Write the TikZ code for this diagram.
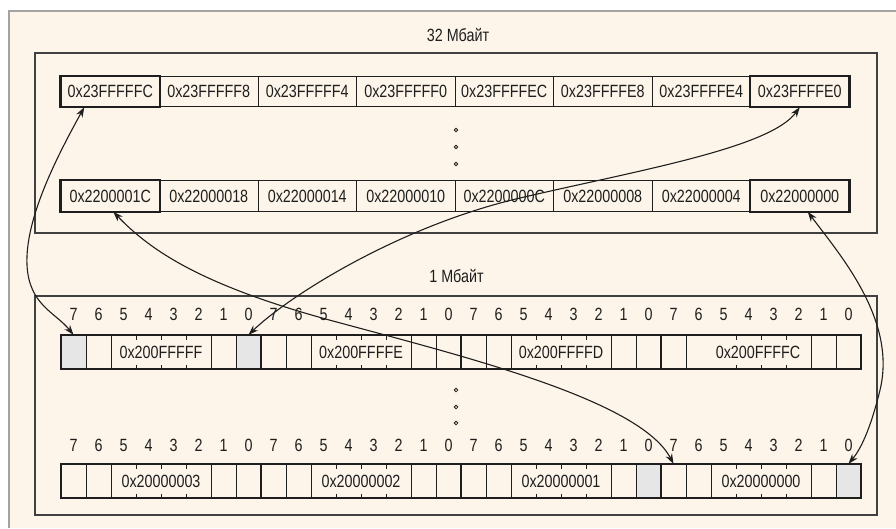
\documentclass[tikz,border=0pt]{standalone}
\usepackage{fontspec}
\setmainfont{Liberation Sans}[FakeStretch=0.81]
\usetikzlibrary{arrows.meta,calc}
\definecolor{cream}{HTML}{FDF5E9}
\definecolor{framegray}{HTML}{A3A3A3}
\definecolor{shadecell}{HTML}{E6E6E6}
\definecolor{ink}{HTML}{1E1E1E}
\begin{document}
\begin{tikzpicture}[x=1pt,y=-1pt,
  font=\fontsize{17.7}{20}\selectfont,
  every node/.style={text=ink},
  hexcell/.style={draw=ink, line width=1pt, minimum width=98.5pt, minimum height=30.5pt, inner sep=0pt},
  bitcell/.style={minimum width=25pt, minimum height=34pt, inner sep=0pt},
  thinline/.style={draw=ink, line width=1pt},
  thickline/.style={draw=ink, line width=2.4pt},
  boxline/.style={draw=ink!85, line width=1.2pt},
  conn/.style={{Stealth[length=10pt,width=7pt]}-{Stealth[length=10pt,width=7pt]}, line width=1.1pt, draw=ink},
  ringdot/.style={draw=ink, line width=0.8pt}
]
\useasboundingbox (0,0) rectangle (896,528);
% outer frame
\fill[white] (0,0) rectangle (896,528);
\fill[cream] (9,11) rectangle (896,528);
\draw[framegray, line width=2.5pt] (9,528) -- (9,11) -- (896,11);

% titles
\node (t32) at (458,35.5) {32 Мбайт};
\node (t1m) at (456.5,276.5) {1 Мбайт};

% inner boxes
\draw[boxline] (35,53) rectangle (877,233);
\draw[boxline] (35,296) rectangle (877,515);

% 32 MB word cells
\foreach \t [count=\i from 0] in {0x23FFFFFC,0x23FFFFF8,0x23FFFFF4,0x23FFFFF0,0x23FFFFEC,0x23FFFFE8,0x23FFFFE4,0x23FFFFE0}
  \node[hexcell] (ta\i) at ({61+98.5*\i+49.25},91.5) {\t};
\foreach \t [count=\i from 0] in {0x2200001C,0x22000018,0x22000014,0x22000010,0x2200000C,0x22000008,0x22000004,0x22000000}
  \node[hexcell] (tb\i) at ({61+98.5*\i+49.25},196) {\t};
\foreach \n in {ta0,ta7,tb0,tb7}
  \draw[thickline] (\n.south west) rectangle (\n.north east);

% dots
\foreach \yy in {130,147,164,390,407,423}
  \draw[ringdot] (456,\yy) circle[radius=1.8pt];

% bit cells (named)
\foreach \k in {1,...,32}{
  \node[bitcell] (pa\k) at ({61+25*\k-12.5},352) {};
  \node[bitcell] (pb\k) at ({61+25*\k-12.5},481) {};
  \pgfmathtruncatemacro\bitn{7-mod(\k-1,8)}
  \node at ({61+25*\k-12.5},314.5) {\bitn};
  \node at ({61+25*\k-12.5},445) {\bitn};
}
% shaded cells
\foreach \n in {pa1,pa8,pb24,pb32}
  \fill[shadecell] (\n.north west) rectangle (\n.south east);

% dividers
\foreach \Y/\r in {335/a,464/b}{
  \foreach \b in {0,1,2,3}{
    \foreach \j in {1,2,6,7}{
      \ifnum\b=3 \ifnum\j=2 \if\r a \else
        \draw[thinline] ({61+200*\b+25*\j},\Y) -- ++(0,34);
      \fi \else
        \draw[thinline] ({61+200*\b+25*\j},\Y) -- ++(0,34);
      \fi \else
        \draw[thinline] ({61+200*\b+25*\j},\Y) -- ++(0,34);
      \fi
    }
    \foreach \j in {3,4,5}{
      \draw[thinline] ({61+200*\b+25*\j},\Y) -- ++(0,4.5);
      \draw[thinline] ({61+200*\b+25*\j},\Y+34) -- ++(0,-4.5);
    }
  }
  \draw[thickline] (61,\Y) rectangle (861,\Y+34);
  \foreach \xx in {261,461,661}
    \draw[thickline] (\xx,\Y) -- ++(0,34);
}

% byte labels
\node (ba1) at (161,352) {0x200FFFFF};
\node (ba2) at (361,352) {0x200FFFFE};
\node (ba3) at (561,352) {0x200FFFFD};
\node (ba4) at (758,352) {0x200FFFFC};
\node (bb1) at (161,481) {0x20000003};
\node (bb2) at (361,481) {0x20000002};
\node (bb3) at (561,481) {0x20000001};
\node (bb4) at (761,481) {0x20000000};

% connectors
\draw[conn] ([xshift=-26pt]ta0.south) .. controls (55,160) and (25,220) .. (27,265)
   .. controls (29,305) and (55,312) .. (pa1.north);
\draw[conn] (ta7.south) .. controls (770,148) and (640,170) .. (520,198)
   .. controls (400,226) and (290,295) .. (pa8.north);
\draw[conn] ([xshift=3pt]tb0.south) .. controls (150,250) and (200,285) .. (333,321)
   .. controls (466,357) and (640,400) .. (pb25.north);
\draw[conn] ([xshift=8pt]tb7.south) .. controls (840,255) and (897,320) .. (880,390)
   .. controls (870,431) and (860,450) .. (pb32.north);
\end{tikzpicture}
\end{document}
